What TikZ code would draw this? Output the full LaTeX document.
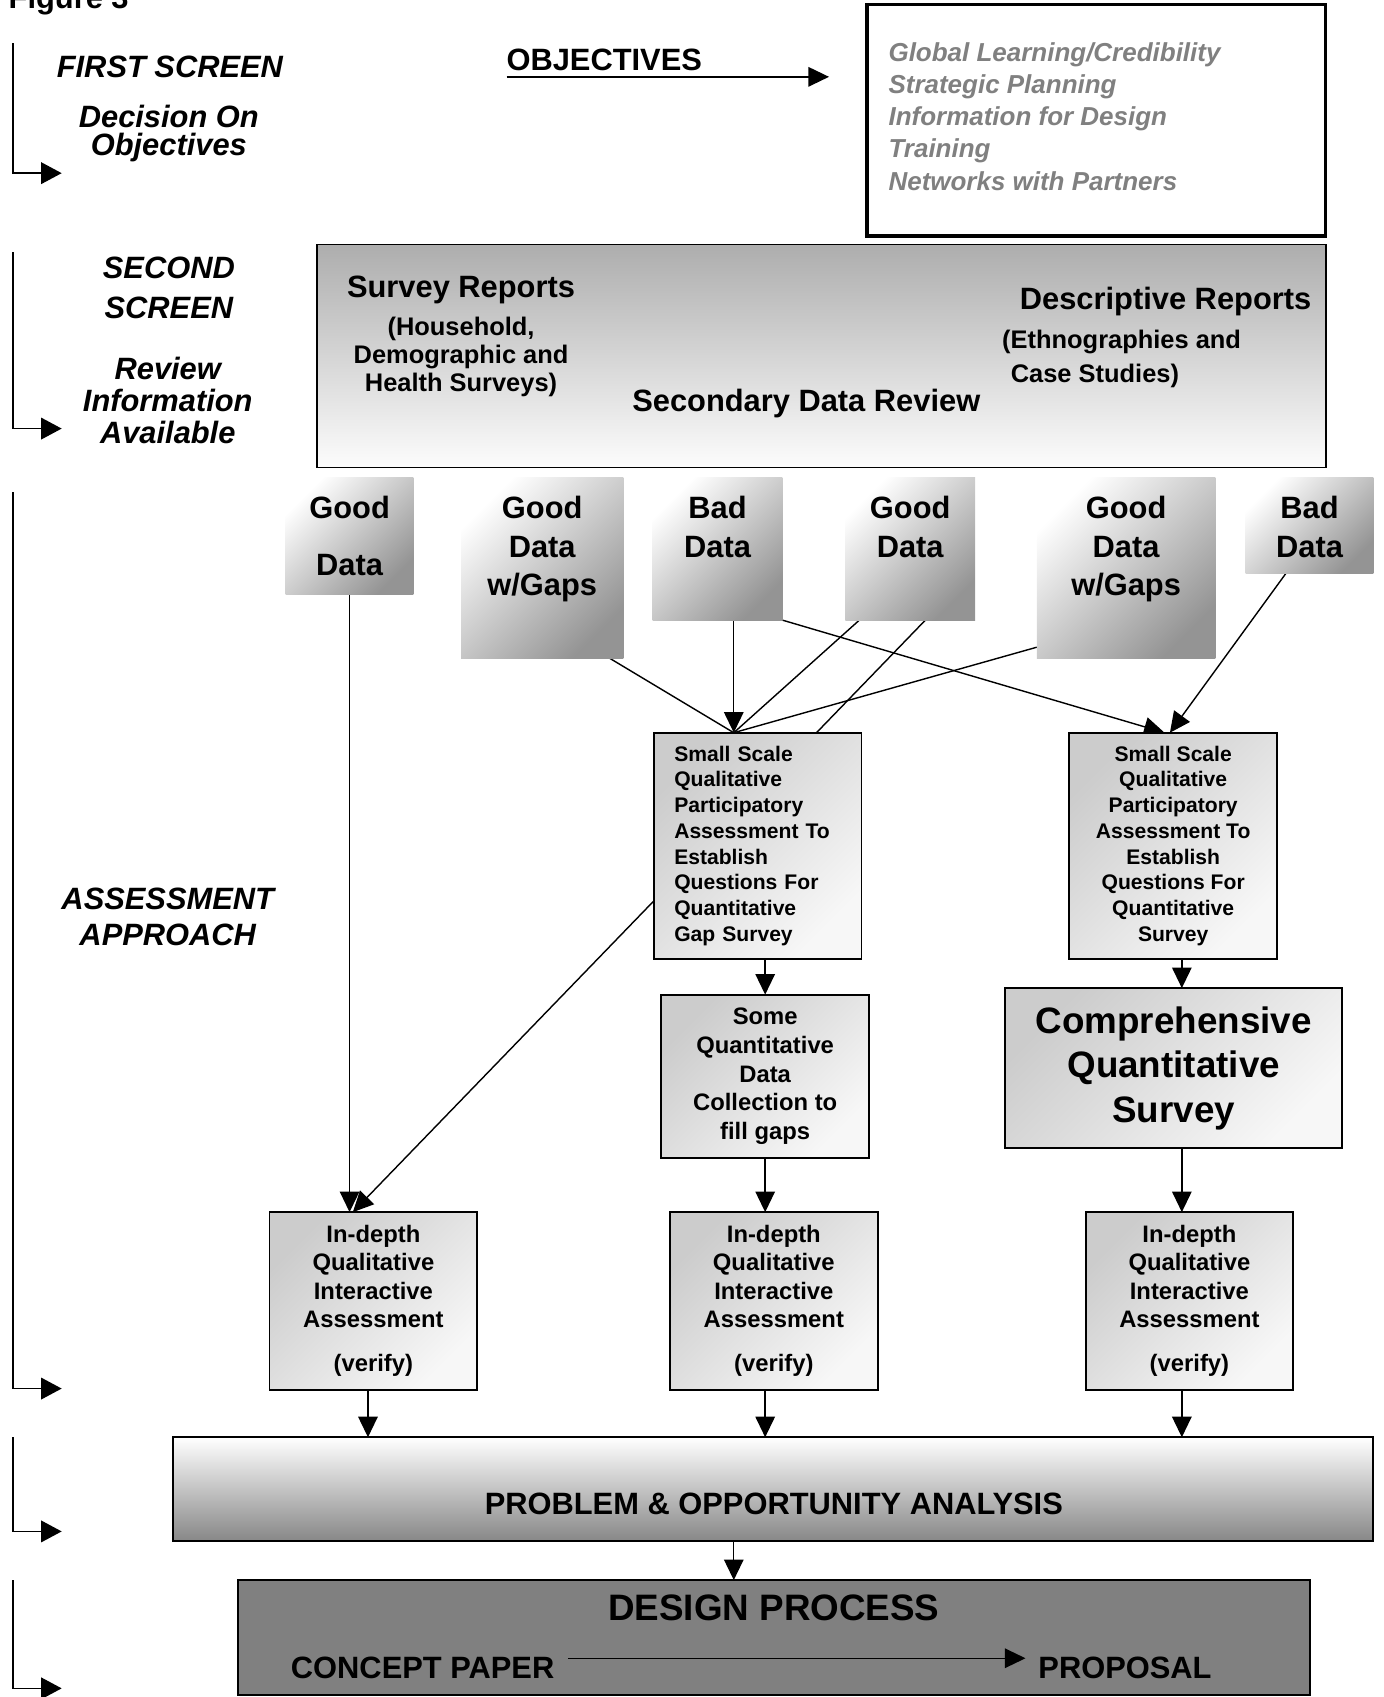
\documentclass[tikz,border=0pt]{standalone}
\usepackage{fontspec}
\setmainfont{Liberation Sans}
\usetikzlibrary{arrows.meta,calc,backgrounds}
\newcommand\myfs[2]{\fontsize{#1pt}{#2pt}\selectfont}
\definecolor{objgray}{RGB}{128,128,128}
\begin{document}
\begin{tikzpicture}[x=1pt,y=-1pt,
  every node/.style={inner sep=0pt, outer sep=0pt},
  lbl/.style={align=center},
  big/.style={font=\myfs{28.5}{30}\bfseries},
  conn/.style={line width=1.3pt,-{Triangle[length=19pt,width=18pt]}},
  plainconn/.style={line width=1.3pt},
  bracket/.style={line width=1.3pt,-{Triangle[length=19pt,width=20pt]}},
  databox/.style={top color=white,bottom color=black!42,shading angle=45},
  procbox/.style={draw,line width=1.8pt,top color=black!20,bottom color=black!3,shading angle=45,align=center},
  datatxt/.style={align=center,anchor=north},
]
\useasboundingbox (0,0) rectangle (1278,1568);

% ---- left column labels
\node[anchor=base west, font=\myfs{28.5}{30}\bfseries] (fig) at (8,8) {Figure 3};
\node[lbl, anchor=base, font=\myfs{28.5}{30}\bfseries\itshape] (first) at (157,72) {FIRST SCREEN};
\node[lbl, anchor=north, font=\myfs{28.5}{26}\bfseries\itshape] (dec) at (156,97) {Decision On\\Objectives};
\node[lbl, anchor=north, font=\myfs{28.5}{37}\bfseries\itshape] (second) at (156,237) {SECOND\\SCREEN};
\node[lbl, anchor=north, font=\myfs{28.5}{29.5}\bfseries\itshape] (review) at (155,330) {Review\\Information\\Available};
\node[lbl, anchor=north, font=\myfs{28.5}{34}\bfseries\itshape] (assess) at (155,820) {ASSESSMENT\\APPROACH};

% ---- left brackets
\coordinate (b1a) at (12,40);   \coordinate (b1b) at (57,160);
\coordinate (b2a) at (12,233);  \coordinate (b2b) at (57,396);
\coordinate (b3a) at (12,455);  \coordinate (b3b) at (57,1283);
\coordinate (b4a) at (12,1328); \coordinate (b4b) at (57,1415);
\coordinate (b5a) at (12,1460); \coordinate (b5b) at (57,1560);
\draw[bracket] (b1a) |- (b1b);
\draw[bracket] (b2a) |- (b2b);
\draw[bracket] (b3a) |- (b3b);
\draw[bracket] (b4a) |- (b4b);
\draw[bracket] (b5a) |- (b5b);

% ---- objectives
\node[big, anchor=base west] (objl) at (468,65) {OBJECTIVES};
\coordinate (objtip) at (766,71);
\draw[conn] (objl.south west |- objtip) -- (objtip);
\node[draw, line width=3pt, fill=white, minimum width=424pt, minimum height=214pt] (objbox) at (1013,111) {};
\node[anchor=north west, align=left, text=objgray, font=\myfs{24}{29.7}\bfseries\itshape] (objlist) at (821,39.4)
  {Global Learning/Credibility\\Strategic Planning\\Information for Design\\Training\\Networks with Partners};

% ---- second screen
\node[draw, line width=1.5pt, top color=black!32, bottom color=black!1, minimum width=932pt, minimum height=206pt] (revbox) at (759,329) {};
\node[big, anchor=base] (survey) at (426,275) {Survey Reports};
\node[anchor=north, align=center, font=\myfs{23.5}{26}\bfseries] (surveysub) at (426,292.6) {(Household,\\Demographic and\\Health Surveys)};
\node[big, anchor=base] (descr) at (1077,286) {Descriptive Reports};
\node[anchor=north west, align=left, font=\myfs{23.5}{32}\bfseries] (descrsub) at (926,304.6) {(Ethnographies and\\\hspace*{8pt}Case Studies)};
\node[big, anchor=base] (sdr) at (745,380) {Secondary Data Review};

% ---- data boxes
\node[databox, minimum width=118pt, minimum height=108pt] (good1) at (323,495) {};
\node[datatxt, font=\myfs{28.5}{52}\bfseries] (good1t) at (323,458.8) {Good\\Data};
\node[databox, minimum width=150pt, minimum height=167pt] (gg2) at (501,524.5) {};
\node[datatxt, font=\myfs{28.5}{35.5}\bfseries] (gg2t) at (501,458.8) {Good\\Data\\w/Gaps};
\node[databox, minimum width=120pt, minimum height=132pt] (bad3) at (663,507) {};
\node[datatxt, font=\myfs{28.5}{35.5}\bfseries] (bad3t) at (663,458.8) {Bad\\Data};
\node[databox, minimum width=120pt, minimum height=132pt] (good4) at (841,507) {};
\node[datatxt, font=\myfs{28.5}{35.5}\bfseries] (good4t) at (841,458.8) {Good\\Data};
\node[databox, minimum width=165pt, minimum height=167pt] (gg5) at (1040.5,524.5) {};
\node[datatxt, font=\myfs{28.5}{35.5}\bfseries] (gg5t) at (1040.5,458.8) {Good\\Data\\w/Gaps};
\node[databox, minimum width=118pt, minimum height=89pt] (bad6) at (1210,485.5) {};
\node[datatxt, font=\myfs{28.5}{35.5}\bfseries] (bad6t) at (1210,458.8) {Bad\\Data};

% ---- process boxes
\node[procbox, minimum width=192pt, minimum height=209pt, align=left, text width=154pt, font=\myfs{19.5}{23.8}\bfseries] (ss1) at (700,781.5)
  {Small Scale\\Qualitative\\Participatory\\Assessment To\\Establish\\Questions For\\Quantitative\\Gap Survey};
\node[procbox, minimum width=192pt, minimum height=209pt, font=\myfs{19.5}{23.8}\bfseries] (ss2) at (1084,781.5)
  {Small Scale\\Qualitative\\Participatory\\Assessment To\\Establish\\Questions For\\Quantitative\\Survey};
\node[procbox, minimum width=192pt, minimum height=151pt, font=\myfs{22}{26.5}\bfseries] (some) at (707,994.5)
  {Some\\Quantitative\\Data\\Collection to\\fill gaps};
\node[procbox, minimum width=311pt, minimum height=148pt, font=\myfs{34}{41}\bfseries] (comp) at (1084.5,987)
  {Comprehensive\\Quantitative\\Survey};
\node[procbox, minimum width=192pt, minimum height=164pt, font=\myfs{22}{26.3}\bfseries] (id1) at (345,1202)
  {In-depth\\Qualitative\\Interactive\\Assessment\\[14.7pt](verify)};
\node[procbox, minimum width=192pt, minimum height=164pt, font=\myfs{22}{26.3}\bfseries] (id2) at (715,1202)
  {In-depth\\Qualitative\\Interactive\\Assessment\\[14.7pt](verify)};
\node[procbox, minimum width=192pt, minimum height=164pt, font=\myfs{22}{26.3}\bfseries] (id3) at (1099,1202)
  {In-depth\\Qualitative\\Interactive\\Assessment\\[14.7pt](verify)};

% ---- problem and design
\node[draw, line width=1.8pt, top color=white, bottom color=black!47, minimum width=1109pt, minimum height=96pt] (prob) at (714.5,1376) {};
\node[big, anchor=base] (probt) at (715,1399) {PROBLEM \& OPPORTUNITY ANALYSIS};
\node[draw, line width=1.8pt, fill=black!50, minimum width=990pt, minimum height=106pt] (design) at (715,1513) {};
\node[anchor=base, font=\myfs{34}{40}\bfseries] (designt) at (715,1497) {DESIGN PROCESS};
\node[big, anchor=base] (concept) at (390.5,1551) {CONCEPT PAPER};
\node[big, anchor=base] (proposal) at (1039.5,1551) {PROPOSAL};
\draw[conn] ($(concept.east)+(13,-9)$) -- ($(proposal.west)+(-12,-9)$);

% ---- connectors
\coordinate (t1) at ($(ss1.north)+(-22,0)$);
\coordinate (c1) at (340,0);
\coordinate (c3) at (1092,0);
\coordinate (c4) at (678,0);
\begin{pgfonlayer}{background}
\draw[conn] (good1.south) -- (good1.south |- id1.north);
\draw[plainconn] ($(gg2.south east)+(-13,0)$) -- (t1);
\draw[conn] ($(bad3.south)+(15,0)$) -- (t1);
\draw[plainconn] ($(good4.south west)+(13,0)$) -- (t1);
\draw[conn] ($(good4.south)+(14,0)$) -- ($(id1.north)+(-19,0)$);
\draw[plainconn] ($(gg5.south west)+(0,-10)$) -- (t1);
\draw[conn] (bad3.south east) -- ($(ss2.north)+(-8,0)$);
\draw[conn] ($(bad6.south)+(-22,0)$) -- ($(ss2.north)+(-3,0)$);
\end{pgfonlayer}
\draw[conn] (ss1.south -| some.north) -- (some.north);
\draw[conn] (ss2.south -| c3) -- (comp.north -| c3);
\draw[conn] (some.south) -- (some.south |- id2.north);
\draw[conn] (comp.south -| c3) -- (id3.north -| c3);
\draw[conn] (id1.south -| c1) -- (prob.north -| c1);
\draw[conn] (id2.south -| some.south) -- (prob.north -| some.south);
\draw[conn] (id3.south -| c3) -- (prob.north -| c3);
\draw[conn] (prob.south -| c4) -- (design.north -| c4);
\end{tikzpicture}
\end{document}
